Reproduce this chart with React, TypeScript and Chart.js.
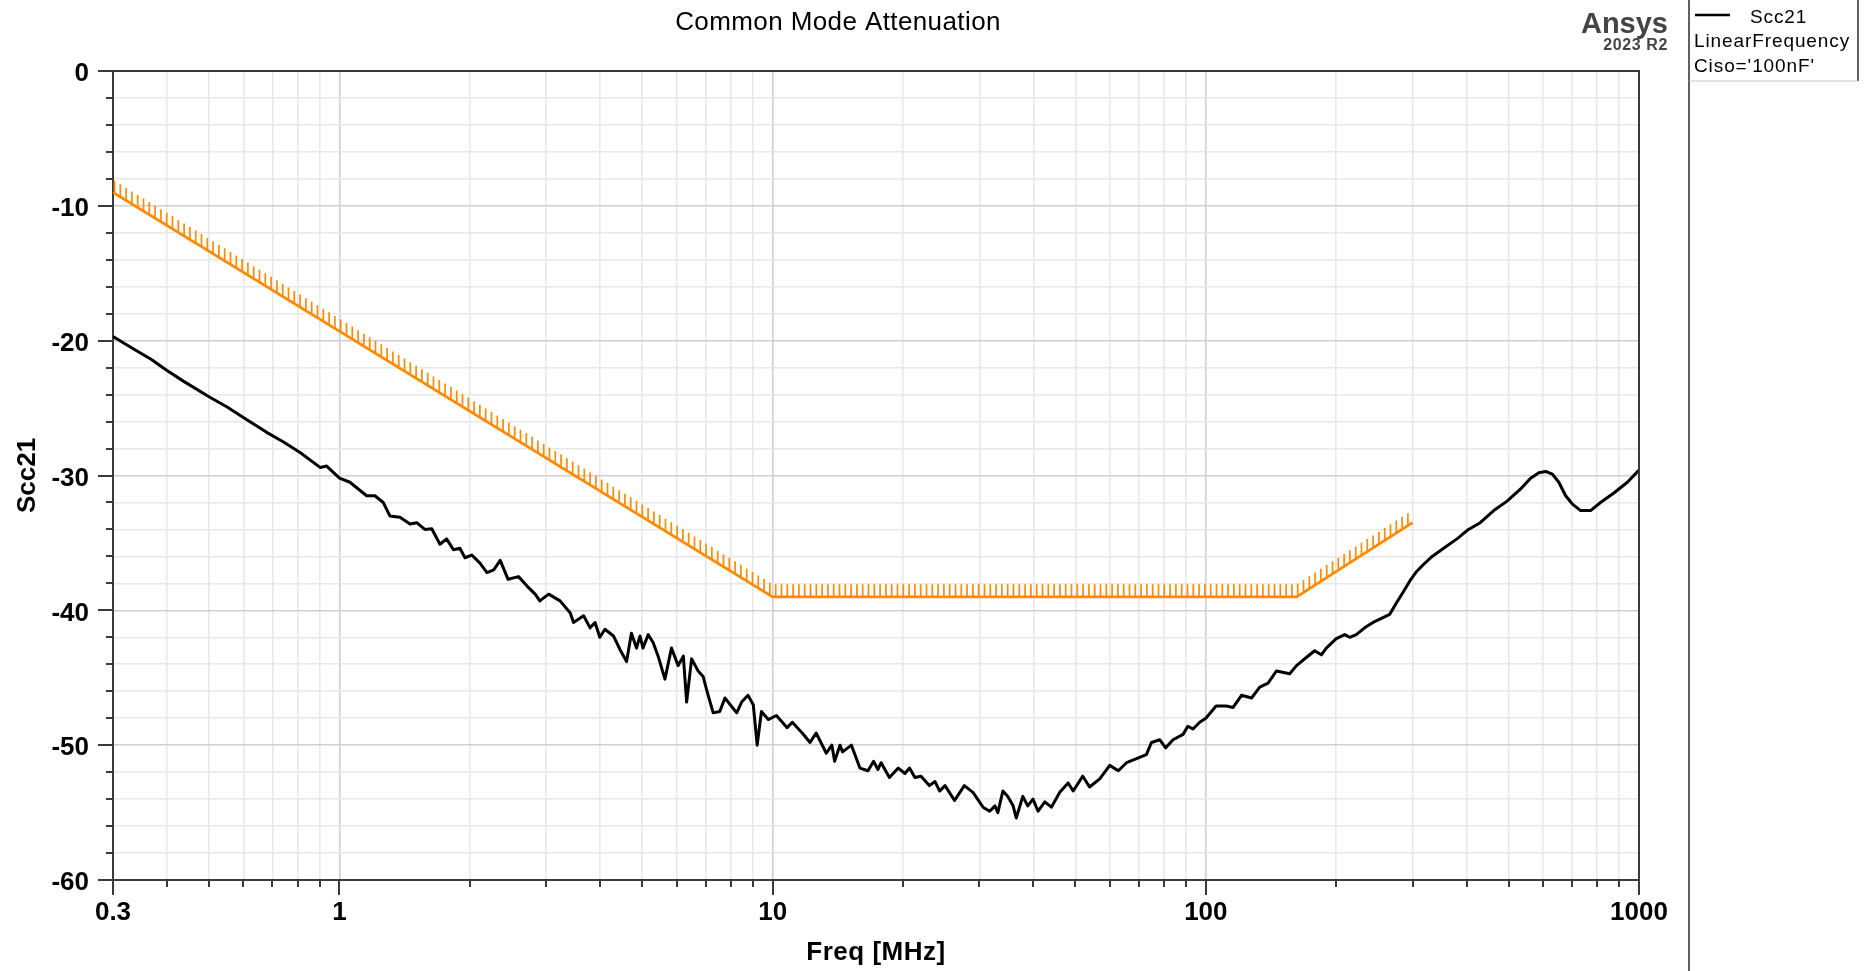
import React, { useEffect, useRef } from 'react';
import { Chart, registerables } from 'chart.js';

Chart.register(...registerables);

// ---------------- data ----------------
const FREQ_MHZ = [
  0.3, 0.334, 0.368, 0.399, 0.436, 0.502, 0.549, 0.61, 0.679, 0.741, 0.811, 0.902, 0.934,
  1.0, 1.057, 1.155, 1.207, 1.262, 1.307, 1.379, 1.455, 1.507, 1.574, 1.633, 1.706, 1.767,
  1.832, 1.897, 1.948, 2.02, 2.11, 2.19, 2.27, 2.35, 2.45, 2.59, 2.71, 2.83, 2.9, 3.04,
  3.23, 3.41, 3.47, 3.66, 3.79, 3.89, 3.99, 4.1, 4.29, 4.44, 4.6, 4.72, 4.85, 4.94, 5.02,
  5.16, 5.3, 5.44, 5.64, 5.84, 6.05, 6.22, 6.33, 6.5, 6.73, 6.91, 7.04, 7.29, 7.55, 7.76,
  8.26, 8.48, 8.77, 9.02, 9.21, 9.42, 9.77, 10.2, 10.8, 11.1, 11.7, 12.2, 12.6, 13.3, 13.7,
  13.9, 14.3, 14.5, 15.2, 15.9, 16.6, 17.1, 17.5, 17.8, 18.6, 19.5, 20.2, 20.7, 21.3, 22.0,
  23.0, 23.7, 24.3, 25.0, 26.3, 27.7, 29.0, 30.6, 31.7, 32.6, 33.1, 34.0, 34.9, 35.9, 36.5,
  37.8, 38.8, 39.9, 41.0, 42.5, 44.0, 46.0, 48.1, 49.4, 52.0, 53.9, 56.9, 60.0, 62.8, 65.6,
  69.2, 72.9, 74.9, 78.3, 80.8, 84.0, 88.6, 90.9, 93.4, 96.8, 100, 105.6, 111.6, 115.6,
  120.9, 127.5, 133.2, 139.2, 145.5, 156.2, 161.9, 170.6, 178.3, 184.8, 189.7, 200, 209.3,
  214.8, 222.5, 232.6, 243.2, 254.3, 265.7, 276, 286, 296, 307, 318, 333, 354, 380, 404,
  430, 462, 496, 533, 562, 587, 609, 631, 653, 677, 701, 733, 773, 815, 875, 940, 1000,
];

const SCC21_DB = [
  -19.7, -20.6, -21.4, -22.2, -23.0, -24.2, -24.9, -25.85, -26.8, -27.5, -28.3, -29.4, -29.3,
  -30.2, -30.5, -31.5, -31.5, -32.0, -33.0, -33.1, -33.6, -33.5, -34.0, -33.95, -35.1, -34.7,
  -35.5, -35.4, -36.1, -35.9, -36.5, -37.2, -37.0, -36.3, -37.7, -37.5, -38.2, -38.8, -39.3, -38.8,
  -39.3, -40.2, -40.9, -40.4, -41.3, -40.9, -42.0, -41.4, -41.9, -42.9, -43.8, -41.7, -42.8, -41.9, -42.8,
  -41.8, -42.4, -43.4, -45.1, -42.8, -44.1, -43.4, -46.8, -43.6, -44.5, -44.9, -45.9, -47.6, -47.5, -46.5,
  -47.6, -46.8, -46.3, -47.0, -50.0, -47.5, -48.1, -47.8, -48.7, -48.3, -49.1, -49.8, -49.1, -50.6, -50.0,
  -51.2, -50.0, -50.5, -50.0, -51.7, -51.9, -51.2, -51.8, -51.3, -52.4, -51.7, -52.1, -51.7, -52.4, -52.3,
  -53.0, -52.7, -53.4, -53.0, -54.1, -53.0, -53.5, -54.6, -54.9, -54.5, -55.0, -53.4, -53.8, -54.5, -55.4,
  -53.8, -54.5, -54.0, -54.9, -54.2, -54.6, -53.5, -52.8, -53.4, -52.3, -53.1, -52.5, -51.5, -51.9, -51.3,
  -51.0, -50.7, -49.8, -49.6, -50.2, -49.6, -49.2, -48.6, -48.8, -48.3, -48.0, -47.1, -47.1, -47.2,
  -46.3, -46.5, -45.7, -45.4, -44.5, -44.7, -44.1, -43.5, -43.0, -43.3, -42.8, -42.1, -41.8,
  -42.0, -41.8, -41.3, -40.9, -40.6, -40.3, -39.4, -38.6, -37.8, -37.1, -36.6, -36.0, -35.4, -34.7, -34.0,
  -33.5, -32.6, -31.9, -31.0, -30.2, -29.8, -29.7, -29.9, -30.5, -31.5, -32.1, -32.6, -32.6, -32.0, -31.3, -30.5, -29.6,
];

const LIMIT_FREQ_MHZ = [0.3, 10, 162, 300];
const LIMIT_DB = [-9, -39, -39, -33.5];

const X_TICKS = [
  0.3, 0.4, 0.5, 0.6, 0.7, 0.8, 0.9,
  1, 2, 3, 4, 5, 6, 7, 8, 9,
  10, 20, 30, 40, 50, 60, 70, 80, 90,
  100, 200, 300, 400, 500, 600, 700, 800, 900,
  1000,
];
const X_LABELS = [0.3, 1, 10, 100, 1000];
const Y_MIN = -60;
const Y_MAX = 0;
const Y_STEP = 2;
const Y_LABEL_STEP = 10;

const TITLE = 'Common Mode Attenuation';
const X_TITLE = 'Freq [MHz]';
const Y_TITLE = 'Scc21';
const LEGEND_LINES = ['Scc21', 'LinearFrequency', "Ciso='100nF'"];
const BRAND = 'Ansys';
const BRAND_SUB = '2023 R2';

// ---------------- styles ----------------
const W = 1865;
const H = 971;
const FONT = '"Liberation Sans", Arial, sans-serif';
const ORANGE = 'rgb(255,138,0)';
const AXIS = '#3a3a3a';
const GRID_MAJOR = '#cfcfcf';
const GRID_MINOR = '#e8e8e8';

const isDecade = (v: number) => {
  const l = Math.log10(v);
  return Math.abs(l - Math.round(l)) < 1e-9;
};

const decorPlugin = {
  id: 'decor',
  afterDraw(chart: any) {
    const ctx = chart.ctx as CanvasRenderingContext2D;
    const area = chart.chartArea;
    const xs = chart.scales.x;
    const ys = chart.scales.y;

    ctx.save();

    // hatches on the limit line
    const pts = LIMIT_FREQ_MHZ.map((f, i) => ({
      x: xs.getPixelForValue(f),
      y: ys.getPixelForValue(LIMIT_DB[i]),
    }));
    ctx.strokeStyle = ORANGE;
    ctx.lineWidth = 1.7;
    ctx.beginPath();
    const endX = pts[pts.length - 1].x;
    for (let px = pts[0].x + 1.5; px <= endX + 0.2; px += 5.8) {
      let k = 0;
      while (k < pts.length - 2 && px > pts[k + 1].x) k++;
      const a = pts[k];
      const b = pts[k + 1];
      const t = (px - a.x) / (b.x - a.x);
      const py = a.y + (b.y - a.y) * Math.min(1, Math.max(0, t));
      ctx.moveTo(px, py);
      ctx.lineTo(px, py - 12.5);
    }
    ctx.stroke();

    // frame top / right
    ctx.strokeStyle = AXIS;
    ctx.lineWidth = 2;
    ctx.beginPath();
    ctx.moveTo(area.left, area.top);
    ctx.lineTo(area.right, area.top);
    ctx.lineTo(area.right, area.bottom);
    ctx.stroke();

    // tick marks
    ctx.beginPath();
    for (const v of X_TICKS) {
      const px = Math.round(xs.getPixelForValue(v));
      const len = isDecade(v) || v === X_TICKS[0] ? 15 : 7;
      ctx.moveTo(px, area.bottom);
      ctx.lineTo(px, area.bottom + len);
    }
    for (let v = Y_MIN; v <= Y_MAX; v += Y_STEP) {
      const py = Math.round(ys.getPixelForValue(v));
      const len = v % Y_LABEL_STEP === 0 ? 15 : 7;
      ctx.moveTo(area.left, py);
      ctx.lineTo(area.left - len, py);
    }
    ctx.stroke();

    // title
    ctx.fillStyle = '#000';
    ctx.textAlign = 'center';
    ctx.textBaseline = 'alphabetic';
    ctx.font = `26px ${FONT}`;
    (ctx as any).letterSpacing = '0.4px';
    ctx.fillText(TITLE, 838, 30);

    // axis titles
    ctx.font = `bold 26px ${FONT}`;
    (ctx as any).letterSpacing = '0.5px';
    ctx.fillText(X_TITLE, (area.left + area.right) / 2, 960);
    ctx.save();
    ctx.translate(35, (area.top + area.bottom) / 2);
    ctx.rotate(-Math.PI / 2);
    (ctx as any).letterSpacing = '0px';
    ctx.fillText(Y_TITLE, 0, 0);
    ctx.restore();

    // brand
    ctx.textAlign = 'right';
    ctx.fillStyle = '#444';
    (ctx as any).letterSpacing = '0px';
    ctx.font = `bold 29px ${FONT}`;
    ctx.fillText(BRAND, 1668, 33);
    ctx.font = `bold 16px ${FONT}`;
    (ctx as any).letterSpacing = '0.6px';
    ctx.fillText(BRAND_SUB, 1668, 50);

    // legend panel
    ctx.strokeStyle = AXIS;
    ctx.lineWidth = 1.6;
    ctx.beginPath();
    ctx.moveTo(1689, 0);
    ctx.lineTo(1689, H);
    ctx.moveTo(1858, 0);
    ctx.lineTo(1858, 81);
    ctx.stroke();
    ctx.strokeStyle = '#c4c4c4';
    ctx.lineWidth = 1.2;
    ctx.beginPath();
    ctx.moveTo(1689, 81);
    ctx.lineTo(1858, 81);
    ctx.stroke();

    ctx.strokeStyle = '#000';
    ctx.lineWidth = 2.4;
    ctx.beginPath();
    ctx.moveTo(1695, 15);
    ctx.lineTo(1730, 15);
    ctx.stroke();

    ctx.fillStyle = '#000';
    ctx.textAlign = 'left';
    ctx.font = `19px ${FONT}`;
    (ctx as any).letterSpacing = '0.9px';
    ctx.fillText(LEGEND_LINES[0], 1750, 23);
    ctx.fillText(LEGEND_LINES[1], 1694, 47);
    ctx.fillText(LEGEND_LINES[2], 1694, 72);
    (ctx as any).letterSpacing = '0px';

    ctx.restore();
  },
};

export default function App() {
  const ref = useRef<HTMLCanvasElement | null>(null);

  useEffect(() => {
    document.body.style.margin = '0';
    document.body.style.overflow = 'hidden';
    document.body.style.background = '#fff';
    const canvas = ref.current;
    if (!canvas) return;

    const yTicks: number[] = [];
    for (let v = Y_MIN; v <= Y_MAX; v += Y_STEP) yTicks.push(v);

    const chart = new Chart(canvas, {
      type: 'line',
      data: {
        datasets: [
          {
            label: 'Limit',
            data: LIMIT_FREQ_MHZ.map((x, i) => ({ x, y: LIMIT_DB[i] })),
            borderColor: ORANGE,
            borderWidth: 2.8,
            pointRadius: 0,
            fill: false,
            tension: 0,
          },
          {
            label: 'Scc21',
            data: FREQ_MHZ.map((x, i) => ({ x, y: SCC21_DB[i] })),
            borderColor: '#000',
            borderWidth: 3,
            pointRadius: 0,
            fill: false,
            tension: 0,
            borderJoinStyle: 'round',
          },
        ],
      },
      options: {
        animation: false,
        responsive: false,
        events: [],
        layout: { padding: { left: 0, top: 71, right: W - 1639, bottom: 0 } },
        plugins: {
          legend: { display: false },
          title: { display: false },
          tooltip: { enabled: false },
        },
        scales: {
          x: {
            type: 'logarithmic',
            min: 0.3,
            max: 1000,
            afterBuildTicks: (s: any) => {
              s.ticks = X_TICKS.map((value) => ({ value }));
            },
            afterFit: (s: any) => {
              s.height = H - 880;
            },
            ticks: {
              autoSkip: false,
              maxRotation: 0,
              minRotation: 0,
              padding: 17,
              color: '#000',
              font: { family: FONT, size: 26, weight: 'bold' },
              callback: (v: any) => (X_LABELS.includes(Number(v)) ? String(v) : ''),
            },
            grid: {
              color: (c: any) => (isDecade(c.tick.value) ? GRID_MAJOR : GRID_MINOR),
              lineWidth: 1.6,
              drawTicks: false,
            },
            border: { display: true, color: AXIS, width: 2 },
          },
          y: {
            type: 'linear',
            min: Y_MIN,
            max: Y_MAX,
            afterBuildTicks: (s: any) => {
              s.ticks = yTicks.map((value) => ({ value }));
            },
            afterFit: (s: any) => {
              s.width = 113;
            },
            ticks: {
              autoSkip: false,
              padding: 24,
              labelOffset: 3,
              color: '#000',
              font: { family: FONT, size: 26, weight: 'bold' },
              callback: (v: any) => (Number(v) % Y_LABEL_STEP === 0 ? String(v) : ''),
            },
            grid: {
              color: (c: any) => (c.tick.value % Y_LABEL_STEP === 0 ? GRID_MAJOR : GRID_MINOR),
              lineWidth: 1.6,
              drawTicks: false,
            },
            border: { display: true, color: AXIS, width: 2 },
          },
        },
      },
      plugins: [decorPlugin],
    } as any);

    return () => chart.destroy();
  }, []);

  return (
    <canvas
      ref={ref}
      width={W}
      height={H}
      style={{ display: 'block', width: W, height: H }}
    />
  );
}
